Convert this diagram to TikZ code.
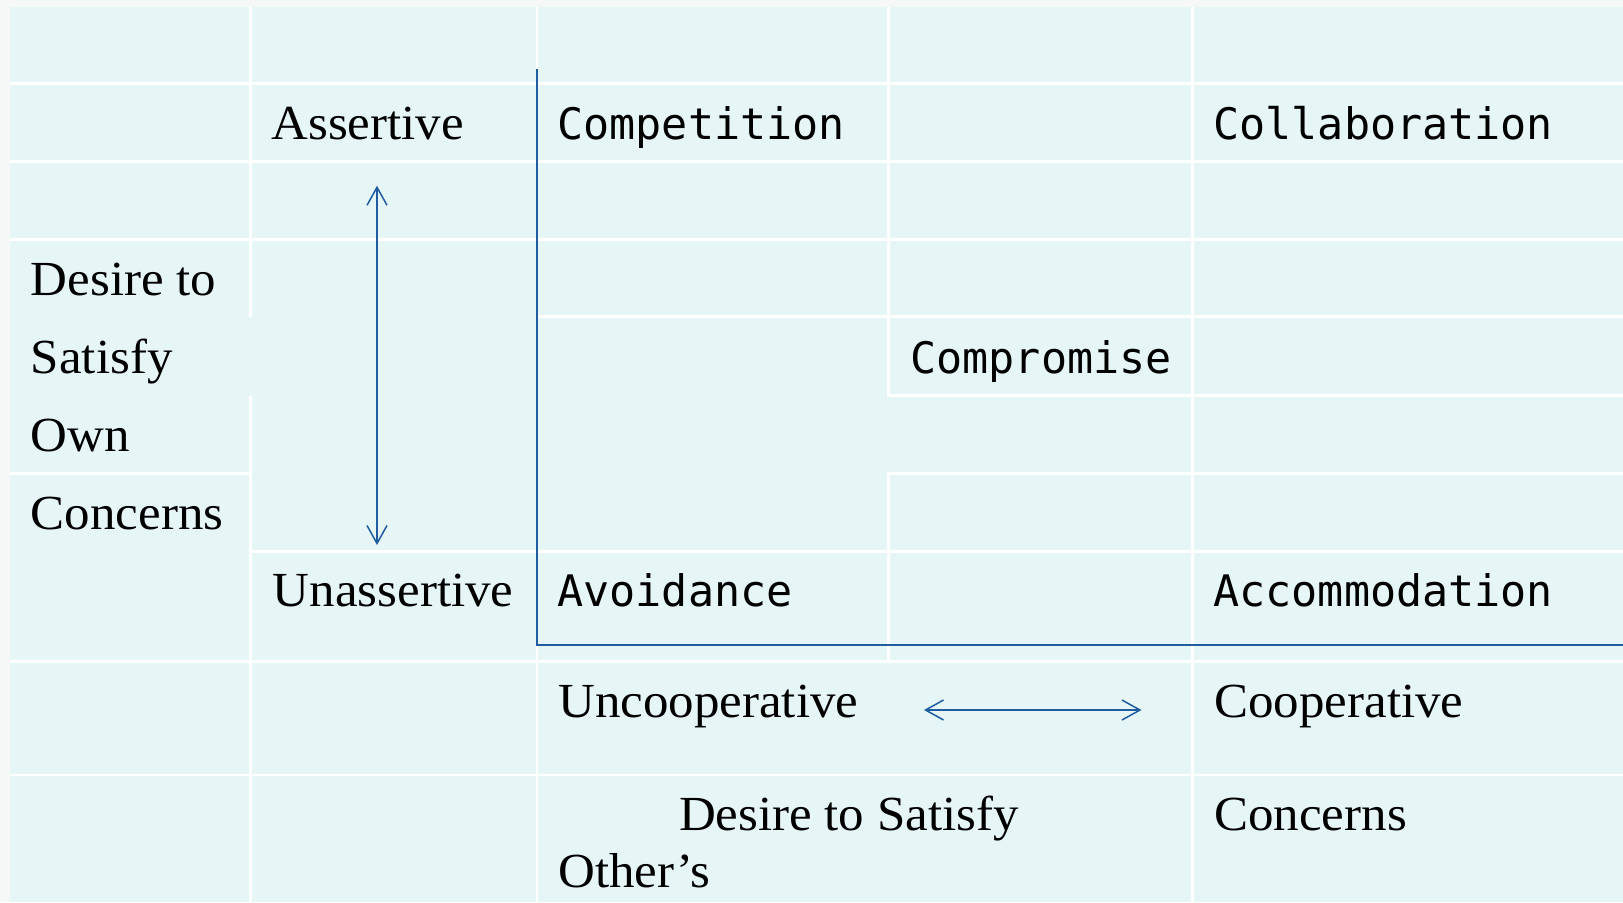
\documentclass[tikz,border=0pt]{standalone}
\usepackage{fontspec}
\setmainfont{Liberation Serif}[FakeStretch=1.04]
\setmonofont{DejaVu Sans Mono}
\usetikzlibrary{arrows.meta,backgrounds}

\definecolor{cellfill}{RGB}{230,245,246}
\definecolor{pagegray}{RGB}{246,247,247}
\definecolor{axisblue}{RGB}{31,93,160}

\begin{document}
\begin{tikzpicture}[%
    x=0.5pt, y=-0.5pt,
    gridline/.style={white, line width=1.3pt},
    axisline/.style={axisblue, line width=1pt},
    scalearrow/.style={
        axisblue,
        line width=0.75pt,
        {Straight Barb[length=9pt,width=10pt]}-{Straight Barb[length=9pt,width=10pt]}
        },
    seriflabel/.style={anchor=base west, inner sep=0pt,
        font=\fontsize{24.5}{30}\selectfont},
    modelabel/.style={anchor=base west, inner sep=0pt,
        font=\fontsize{21.7}{26}\selectfont\ttfamily},
]

\useasboundingbox (0,0) rectangle (1623,902);

% axis labels
\node[seriflabel] (assertive)   at (271,139) {Assertive};
\node[seriflabel] (unassertive) at (272.5,606) {Unassertive};
\foreach \word [count=\i from 0] in {Desire to, Satisfy, Own, Concerns}
    \node[seriflabel] (own\i) at (30.6,{295+78*\i}) {\word};

\node[seriflabel] (uncoop)   at (558,717) {Uncooperative};
\node[seriflabel] (coop)     at (1214,717) {Cooperative};
\node[seriflabel] (others)   at (678.6,830) {Desire to Satisfy};
\node[seriflabel] (otherss)  at (558,887) {Other’s};
\node[seriflabel] (concerns) at (1214,830) {Concerns};

% conflict modes
\node[modelabel] (competition)   at (557,139) {Competition};
\node[modelabel] (collaboration) at (1213,139) {Collaboration};
\node[modelabel] (compromise)    at (910,373) {Compromise};
\node[modelabel] (avoidance)     at (557,606) {Avoidance};
\node[modelabel] (accommodation) at (1213,606) {Accommodation};

% axes
\coordinate (axistop) at (537,69);
\coordinate (origin)  at (537,645);
\coordinate (axisend) at (1623,645);
\draw[axisline] (axistop) -- (origin) -- (axisend);

\coordinate (assert hi) at (377,185.7);
\coordinate (assert lo) at (377,545);
\draw[scalearrow] (assert hi) -- (assert lo);

\coordinate (coop lo) at (924,710);
\coordinate (coop hi) at (1141.5,710);
\draw[scalearrow] (coop lo) -- (coop hi);

\begin{scope}[on background layer]
\fill[pagegray] (0,0) rectangle (1623,902);
\fill[cellfill] (9.6,6.7) rectangle (1623,902);
\foreach \ya/\xa/\xb in {83.3/9.6/1623, 161.7/9.6/1623, 239.3/9.6/1623,
        316.7/537/1623, 395.7/888.4/1623, 473.3/9.6/250.7,
        473.3/888.4/1623, 551.7/250.7/1623, 661.7/9.6/1623, 775/9.6/1623}
    \draw[gridline] (\xa,\ya) -- (\xb,\ya);
\foreach \xa/\ya/\yb in {250.7/6.7/316.7, 250.7/395.7/902, 537/6.7/902,
        888.4/6.7/395.7, 888.4/473.3/661.7, 1192.7/6.7/902}
    \draw[gridline] (\xa,\ya) -- (\xa,\yb);
\end{scope}
\end{tikzpicture}
\end{document}
